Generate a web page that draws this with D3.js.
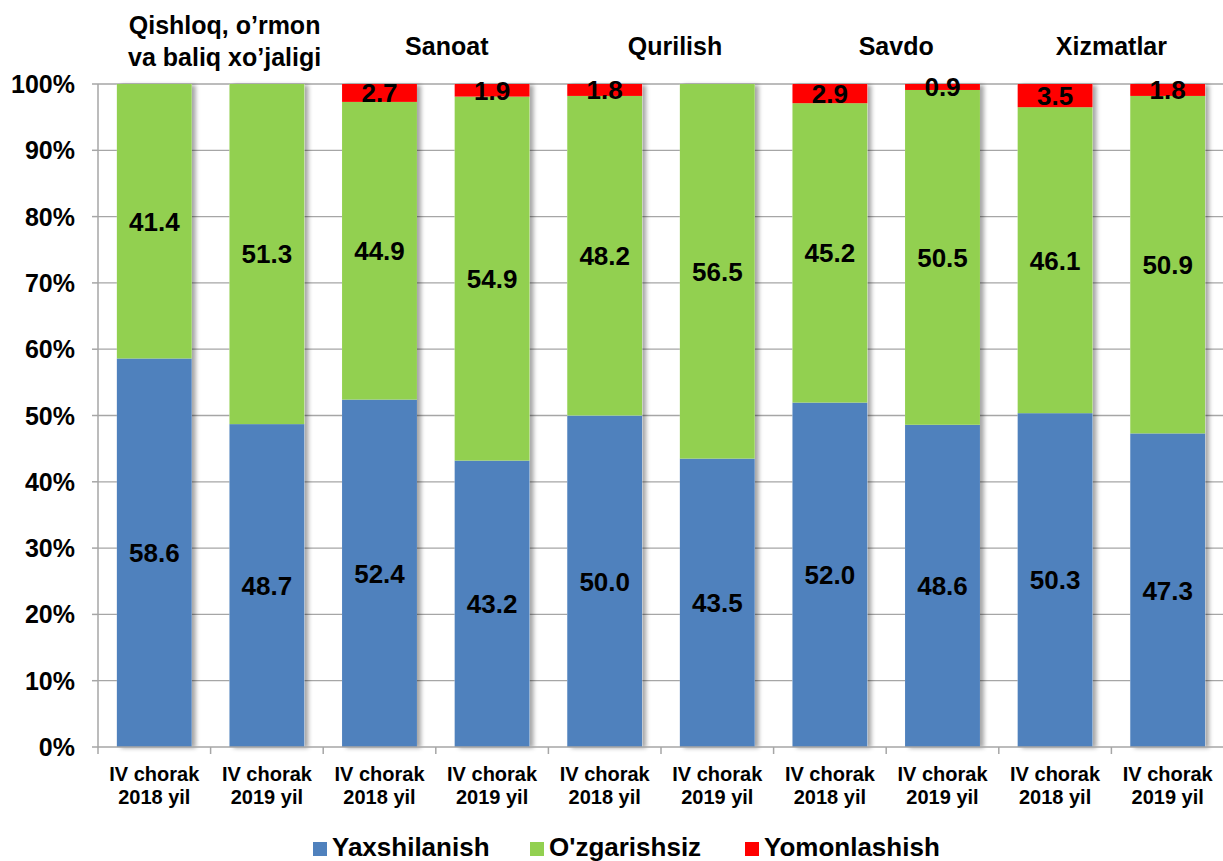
<!DOCTYPE html>
<html><head><meta charset="utf-8">
<script src="https://cdn.jsdelivr.net/npm/d3@7"></script>
<style>
html,body{margin:0;padding:0;background:#fff;}
svg text{font-family:Arial,"Liberation Sans",sans-serif;font-weight:bold;fill:#000;}
</style></head><body>
<svg id="chart" width="1223" height="861"></svg>
<script>
const categories = ["IV chorak|2018 yil","IV chorak|2019 yil","IV chorak|2018 yil","IV chorak|2019 yil","IV chorak|2018 yil","IV chorak|2019 yil","IV chorak|2018 yil","IV chorak|2019 yil","IV chorak|2018 yil","IV chorak|2019 yil"];
const groupTitles = [["Qishloq, o\u2019rmon","va baliq xo\u2019jaligi"],["Sanoat"],["Qurilish"],["Savdo"],["Xizmatlar"]];
const seriesNames = ["Yaxshilanish","O'zgarishsiz","Yomonlashish"];
const yaxshilanish = [58.6,48.7,52.4,43.2,50.0,43.5,52.0,48.6,50.3,47.3];
const ozgarishsiz  = [41.4,51.3,44.9,54.9,48.2,56.5,45.2,50.5,46.1,50.9];
const yomonlashish = [0,0,2.7,1.9,1.8,0,2.9,0.9,3.5,1.8];
const yTicks = [0,10,20,30,40,50,60,70,80,90,100];
const colors = ["#4F81BD","#92D050","#FF0000"];

const svg = d3.select("#chart");
const L = 98, R = 1224, T = 84, B = 747;
const idx = d3.range(categories.length);
const x = d3.scaleBand().domain(idx).range([L,R]).paddingInner(0.335).paddingOuter(0.1675);
const xo = d3.scaleBand().domain(idx).range([L,R]);
const y = d3.scaleLinear().domain([0,100]).range([B,T]);

const defs = svg.append("defs");
const f = defs.append("filter").attr("id","sh").attr("x","-10%").attr("y","-5%").attr("width","130%").attr("height","110%");
f.append("feDropShadow").attr("dx",4).attr("dy",1).attr("stdDeviation",2).attr("flood-color","#000").attr("flood-opacity",0.35);

svg.append("g").selectAll("line").data(yTicks.filter(d=>d>0)).join("line")
  .attr("x1",L).attr("x2",R).attr("y1",d=>y(d)).attr("y2",d=>y(d))
  .attr("stroke","#A6A6A6").attr("stroke-width",1.3);

const rows = idx.map(i=>{
  const tot = yaxshilanish[i]+ozgarishsiz[i]+yomonlashish[i];
  return {i, a:yaxshilanish[i]*100/tot, b:ozgarishsiz[i]*100/tot, c:yomonlashish[i]*100/tot, raw:[yaxshilanish[i],ozgarishsiz[i],yomonlashish[i]]};
});
const stack = d3.stack().keys(["a","b","c"])(rows);

const bars = svg.append("g");
bars.append("g").selectAll("rect").data(rows).join("rect")
  .attr("x",d=>x(d.i)).attr("width",x.bandwidth())
  .attr("y",y(100)).attr("height",y(0)-y(100))
  .attr("fill","#fff").attr("filter","url(#sh)");
stack.forEach((s,k)=>{
  bars.append("g").selectAll("rect").data(s.filter(d=>d[1]-d[0]>0)).join("rect")
    .attr("x",d=>x(d.data.i)).attr("width",x.bandwidth())
    .attr("y",d=>y(d[1])).attr("height",d=>y(d[0])-y(d[1]))
    .attr("fill",colors[k]);
});
stack.forEach((s,k)=>{
  svg.append("g").selectAll("text").data(s.filter(d=>d.data.raw[k]>0)).join("text")
    .attr("x",d=>x(d.data.i)+x.bandwidth()/2)
    .attr("y",d=>(y(d[0])+y(d[1]))/2)
    .attr("dy","0.36em").attr("text-anchor","middle")
    .style("font-size","26px")
    .text(d=>d.data.raw[k].toFixed(1));
});

const ya = svg.append("g");
ya.append("line").attr("x1",L).attr("x2",L).attr("y1",T).attr("y2",B).attr("stroke","#A6A6A6").attr("stroke-width",1.5);
ya.selectAll("line.t").data(yTicks).join("line").attr("class","t")
  .attr("x1",L-6).attr("x2",L).attr("y1",d=>y(d)).attr("y2",d=>y(d)).attr("stroke","#A6A6A6").attr("stroke-width",1.5);
ya.selectAll("text").data(yTicks).join("text")
  .attr("x",75).attr("y",d=>y(d)).attr("dy","0.36em").attr("text-anchor","end")
  .style("font-size","25px").text(d=>d+"%");

const xa = svg.append("g");
xa.append("line").attr("x1",L).attr("x2",R).attr("y1",B).attr("y2",B).attr("stroke","#A6A6A6").attr("stroke-width",1.5);
xa.selectAll("line.t").data(d3.range(categories.length+1)).join("line").attr("class","t")
  .attr("x1",d=>L+d*xo.bandwidth()).attr("x2",d=>L+d*xo.bandwidth()).attr("y1",B).attr("y2",B+7)
  .attr("stroke","#A6A6A6").attr("stroke-width",1.5);
const cl = xa.selectAll("text").data(idx).join("text")
  .attr("text-anchor","middle").style("font-size","20px")
  .attr("x",i=>xo(i)+xo.bandwidth()/2).attr("y",781);
cl.each(function(i){
  const parts = categories[i].split("|");
  d3.select(this).selectAll("tspan").data(parts).join("tspan")
    .attr("x",xo(i)+xo.bandwidth()/2).attr("dy",(d,j)=>j?23:0).text(d=>d);
});

const titleOffsets = [14,11,14,10,0];
const tg = svg.append("g");
groupTitles.forEach((lines,g)=>{
  const cx = xo(2*g+1) + titleOffsets[g];
  const t = tg.append("text").attr("text-anchor","middle").style("font-size","25px")
    .attr("x",cx).attr("y",lines.length>1?34:55);
  lines.forEach((ln,j)=>t.append("tspan").attr("x",cx).attr("dy",j?32:0).text(ln));
});

const lg = svg.append("g");
const legX = [313,530,745];
seriesNames.forEach((n,k)=>{
  lg.append("rect").attr("x",legX[k]).attr("y",842).attr("width",14).attr("height",14).attr("fill",colors[k]);
  lg.append("text").attr("x",legX[k]+19).attr("y",856).style("font-size","26px").text(n);
});
</script></body></html>
